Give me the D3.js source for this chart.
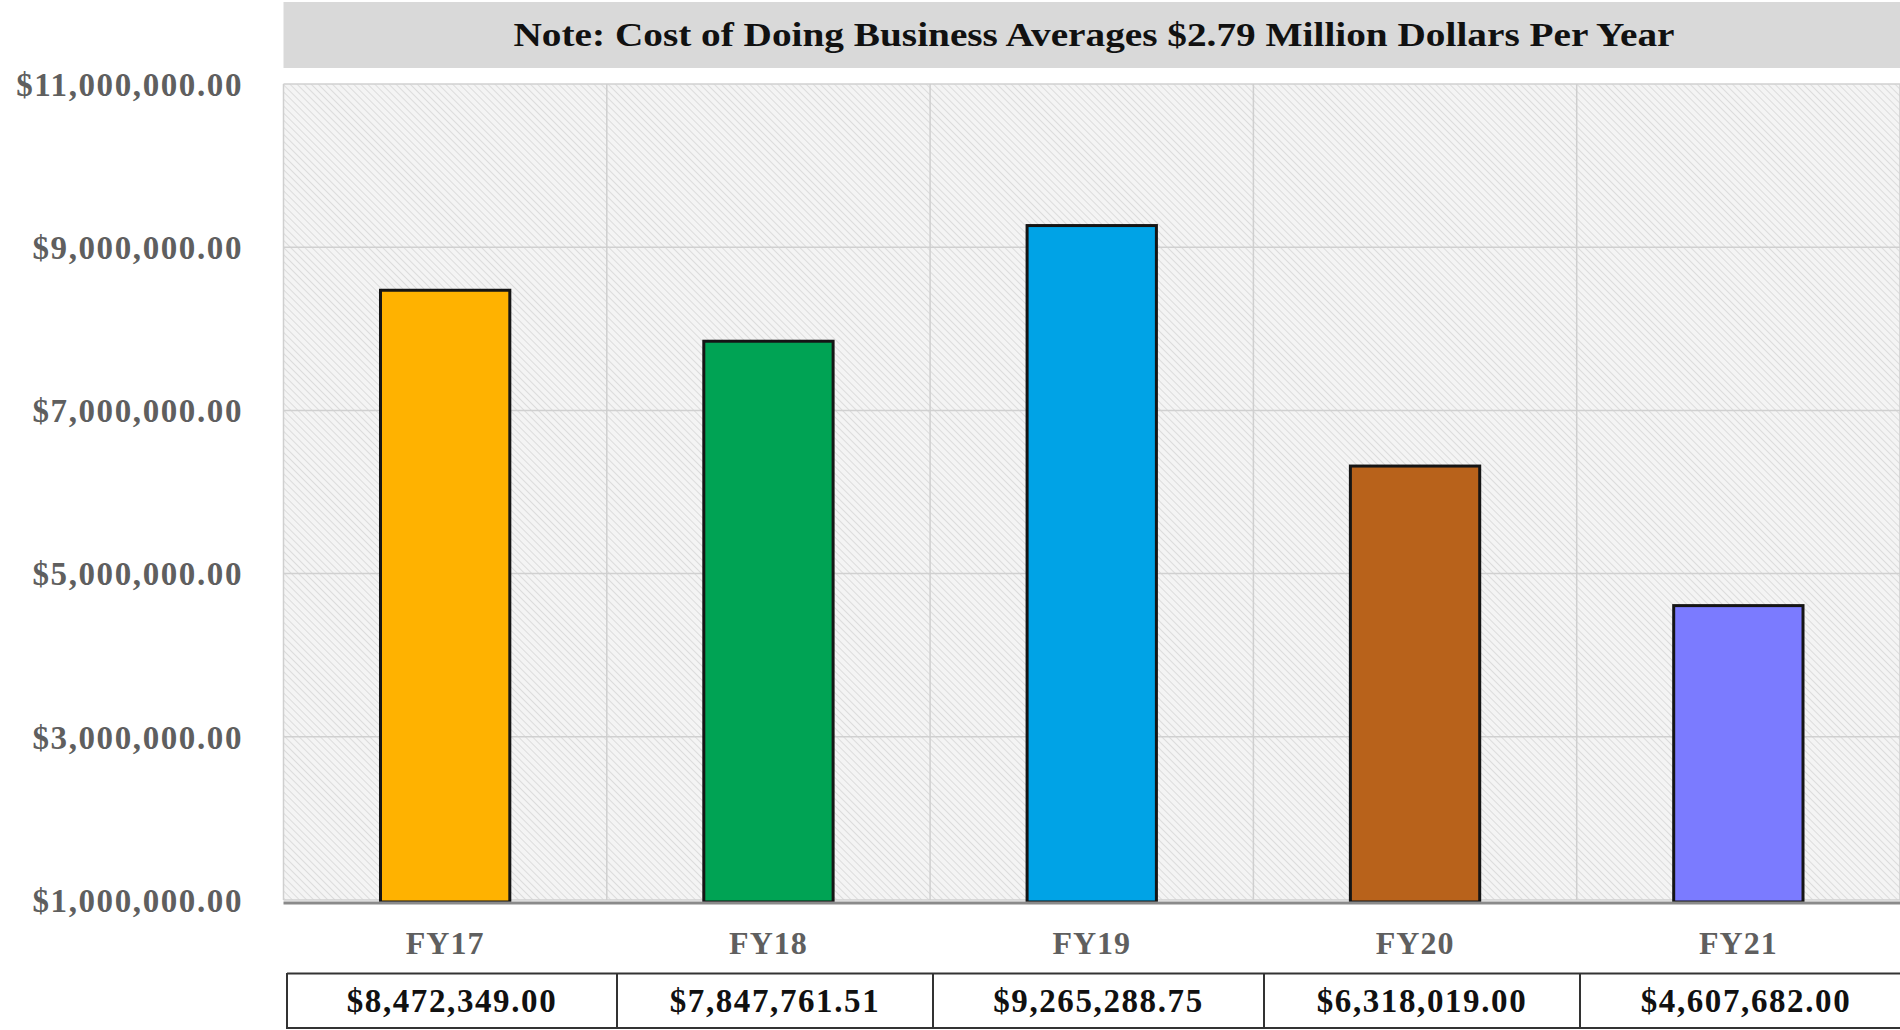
<!DOCTYPE html>
<html><head><meta charset="utf-8">
<script src="https://cdn.jsdelivr.net/npm/d3@7"></script>
<style>
html,body{margin:0;padding:0;background:#fff;overflow:hidden;}
svg{display:block;}
</style></head>
<body>
<svg id="chart" width="1900" height="1030"></svg>
<script>
const categories = ["FY17", "FY18", "FY19", "FY20", "FY21"];
const values = [8472349.00, 7847761.51, 9265288.75, 6318019.00, 4607682.00];
const valueLabels = ["$8,472,349.00", "$7,847,761.51", "$9,265,288.75", "$6,318,019.00", "$4,607,682.00"];
const barColors = ["#FFB200", "#00A354", "#00A3E6", "#B8621B", "#7B7BFF"];
const yTicks = [1000000, 3000000, 5000000, 7000000, 9000000, 11000000];
const titleText = "Note: Cost of Doing Business Averages $2.79 Million Dollars Per Year";

const svg = d3.select("#chart");
const W = 1900, H = 1030;
const plot = {left: 283.5, right: 1900, top: 84, bottom: 900};
const FONT = "'Liberation Serif', 'Times New Roman', serif";

const x = d3.scaleBand().domain(categories).range([plot.left, plot.right]).padding(0);
const y = d3.scaleLinear().domain([1000000, 11000000]).range([plot.bottom, plot.top]);

// hatch pattern
const defs = svg.append("defs");
const pat = defs.append("pattern").attr("id", "hatch").attr("patternUnits", "userSpaceOnUse")
  .attr("width", 5).attr("height", 5).attr("patternTransform", "rotate(-45)");
pat.append("rect").attr("width", 5).attr("height", 5).attr("fill", "#f4f4f4");
pat.append("line").attr("x1", 0).attr("y1", 0).attr("x2", 0).attr("y2", 5)
  .attr("stroke", "#d6d6d6").attr("stroke-width", 1.6);

// title band
svg.append("rect").attr("x", plot.left).attr("y", 2).attr("width", W - plot.left).attr("height", 66)
  .attr("fill", "#d9d9d9");
const title = svg.append("text").attr("x", 1094).attr("y", 46).attr("text-anchor", "middle")
  .attr("font-family", FONT).attr("font-weight", "bold").attr("font-size", 33)
  .attr("fill", "#111").text(titleText);
title.attr("textLength", 1161).attr("lengthAdjust", "spacingAndGlyphs");

// plot background
svg.append("rect").attr("x", plot.left).attr("y", plot.top).attr("width", plot.right - plot.left)
  .attr("height", plot.bottom - plot.top).attr("fill", "url(#hatch)");

// horizontal gridlines
svg.append("g").selectAll("line").data(yTicks).join("line")
  .attr("x1", plot.left).attr("x2", plot.right)
  .attr("y1", d => y(d)).attr("y2", d => y(d))
  .attr("stroke", "#d0d0d0").attr("stroke-width", 1.5);

// vertical gridlines at band edges
const edges = categories.map(c => x(c)).concat([plot.right]);
svg.append("g").selectAll("line").data(edges).join("line")
  .attr("x1", d => d).attr("x2", d => d)
  .attr("y1", plot.top).attr("y2", plot.bottom)
  .attr("stroke", "#cfcfcf").attr("stroke-width", 1.5);

// y axis labels
const yAxis = d3.axisLeft(y).tickValues(yTicks).tickSize(0).tickPadding(0)
  .tickFormat(d => "$" + d3.format(",.2f")(d));
const yg = svg.append("g").attr("transform", `translate(243,0)`).call(yAxis);
yg.select(".domain").remove();
yg.selectAll("text").attr("font-family", FONT).attr("font-weight", "bold").attr("font-size", 33)
  .attr("letter-spacing", "1.6px").attr("fill", "#5f5f5f").attr("dy", "0.34em");

// bars
const barW = x.bandwidth() * 0.4;
svg.append("g").selectAll("rect").data(values).join("rect")
  .attr("x", (d, i) => x(categories[i]) + (x.bandwidth() - barW) / 2)
  .attr("y", d => y(d))
  .attr("width", barW)
  .attr("height", d => y(1000000) + 2 - y(d))
  .attr("fill", (d, i) => barColors[i])
  .attr("stroke", "#151515").attr("stroke-width", 3);

// x axis line
svg.append("line").attr("x1", plot.left).attr("x2", plot.right)
  .attr("y1", 903).attr("y2", 903).attr("stroke", "#8a8a8a").attr("stroke-width", 3);

// category labels
const xAxis = d3.axisBottom(x).tickSize(0).tickPadding(0);
const xg = svg.append("g").attr("transform", "translate(0,943)").call(xAxis);
xg.select(".domain").remove();
xg.selectAll("text").attr("font-family", FONT).attr("font-weight", "bold").attr("font-size", 32)
  .attr("letter-spacing", "1px").attr("fill", "#5f5f5f").attr("dy", "0.34em");

// data table row
const cellEdges = [287, 617, 933, 1264, 1580, 1912];
const tbl = svg.append("g");
tbl.append("line").attr("x1", cellEdges[0]).attr("x2", W).attr("y1", 973.5).attr("y2", 973.5)
  .attr("stroke", "#333").attr("stroke-width", 2);
tbl.append("line").attr("x1", cellEdges[0]).attr("x2", W).attr("y1", 1028).attr("y2", 1028)
  .attr("stroke", "#333").attr("stroke-width", 2);
tbl.selectAll("line.sep").data(cellEdges.slice(0, 5)).join("line").attr("class", "sep")
  .attr("x1", d => d).attr("x2", d => d).attr("y1", 973).attr("y2", 1029)
  .attr("stroke", "#333").attr("stroke-width", 2);
tbl.selectAll("text").data(valueLabels).join("text")
  .attr("x", (d, i) => (cellEdges[i] + cellEdges[i + 1]) / 2)
  .attr("y", 1001).attr("dy", "0.34em").attr("text-anchor", "middle")
  .attr("font-family", FONT).attr("font-weight", "bold").attr("font-size", 33)
  .attr("letter-spacing", "1.6px").attr("fill", "#111").text(d => d);
</script>
</body></html>
